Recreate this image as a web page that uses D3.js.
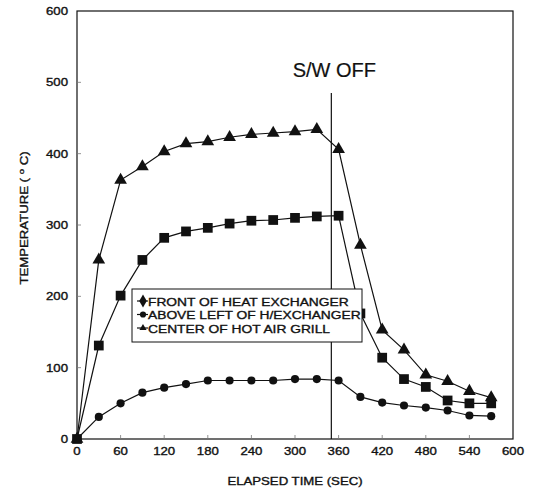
<!DOCTYPE html>
<html>
<head>
<meta charset="utf-8">
<script src="https://cdn.jsdelivr.net/npm/d3@7"></script>
<style>
  body { margin: 0; background: #fff; }
  svg text { font-family: "Liberation Sans", Arial, sans-serif; fill: #111; stroke: #111; stroke-width: 0.35px; }
</style>
</head>
<body>
<svg width="536" height="492"></svg>
<script>
// elapsed time (sec) for every reading
var times = [0, 30, 60, 90, 120, 150, 180, 210, 240, 270, 300, 330, 360, 390, 420, 450, 480, 510, 540, 570];

// temperatures (deg C)
var frontHX  = [0, 31, 50, 65, 72, 77, 82, 82, 82, 82, 84, 84, 82, 59, 51, 47, 44, 40, 33, 32];
var aboveHX  = [0, 131, 201, 251, 282, 291, 296, 302, 306, 307, 310, 312, 313, 176, 114, 84, 73, 54, 50, 50];
var hotGrill = [0, 251, 363, 382, 403, 414, 417, 423, 427, 429, 431, 434, 406, 272, 153, 125, 90, 81, 67, 58];

var seriesNames = ["FRONT OF HEAT EXCHANGER", "ABOVE LEFT OF H/EXCHANGER", "CENTER OF HOT AIR GRILL"];
var xTicks = [0, 60, 120, 180, 240, 300, 360, 420, 480, 540, 600];
var yTicks = [0, 100, 200, 300, 400, 500, 600];
var swOff = 350;

var svg = d3.select("svg"),
    margin = {top: 11, right: 23, bottom: 53, left: 77},
    width = +svg.attr("width") - margin.left - margin.right,
    height = +svg.attr("height") - margin.top - margin.bottom,
    stretch = 1.2; // scanned text is wider than it is tall

var x = d3.scaleLinear().domain([0, 600]).range([margin.left, margin.left + width]);
var y = d3.scaleLinear().domain([0, 600]).range([margin.top + height, margin.top]);

// frame
svg.append("rect")
    .attr("x", x(0)).attr("y", y(600))
    .attr("width", x(600) - x(0)).attr("height", y(0) - y(600))
    .attr("fill", "none").attr("stroke", "#111").attr("stroke-width", 1.2);

// small inward ticks
svg.append("g").selectAll("line").data(xTicks.slice(1, -1)).enter().append("line")
    .attr("x1", function (d) { return x(d); }).attr("x2", function (d) { return x(d); })
    .attr("y1", y(0)).attr("y2", y(0) - 4)
    .attr("stroke", "#777").attr("stroke-width", 0.8);
svg.append("g").selectAll("line").data(yTicks.slice(1, -1)).enter().append("line")
    .attr("x1", x(0)).attr("x2", x(0) + 4)
    .attr("y1", function (d) { return y(d); }).attr("y2", function (d) { return y(d); })
    .attr("stroke", "#777").attr("stroke-width", 0.8);

// tick labels
svg.append("g").selectAll("text").data(xTicks).enter().append("text")
    .attr("transform", function (d) { return "translate(" + x(d) + "," + (y(0) + 16) + ") scale(" + stretch + ",1)"; })
    .attr("text-anchor", "middle")
    .style("font-size", "11px")
    .text(function (d) { return d; });
svg.append("g").selectAll("text").data(yTicks).enter().append("text")
    .attr("transform", function (d) { return "translate(" + (x(0) - 9) + "," + (y(d) + 4) + ") scale(" + stretch + ",1)"; })
    .attr("text-anchor", "end")
    .style("font-size", "11px")
    .text(function (d) { return d; });

// axis titles
svg.append("text")
    .attr("transform", "translate(" + (x(0) + width / 2) + ",485) scale(" + stretch + ",1)")
    .attr("text-anchor", "middle")
    .style("font-size", "11px")
    .text("ELAPSED TIME (SEC)");

var yTitle = svg.append("text")
    .attr("transform", "translate(28,218) rotate(-90) scale(" + stretch + ",1)")
    .attr("text-anchor", "middle")
    .style("font-size", "11px");
yTitle.append("tspan").text("TEMPERATURE ( ");
yTitle.append("tspan").attr("dy", -4).style("font-size", "8px").text("o");
yTitle.append("tspan").attr("dy", 4).text(" C)");

// switch-off marker
svg.append("line")
    .attr("x1", x(swOff)).attr("x2", x(swOff))
    .attr("y1", 93).attr("y2", y(0))
    .attr("stroke", "#111").attr("stroke-width", 1.2);
svg.append("text")
    .attr("x", x(swOff) + 3).attr("y", 77)
    .attr("text-anchor", "middle")
    .style("font-size", "20px")
    .style("stroke-width", "0.2px")
    .text("S/W OFF");

// lines + markers
var series = [frontHX, aboveHX, hotGrill];
var symbols = [d3.symbolCircle, d3.symbolSquare, d3.symbolTriangle];
var sizes = [52, 95, 70];

var line = d3.line()
    .x(function (d, i) { return x(times[i]); })
    .y(function (d) { return y(d); });

series.forEach(function (vals, s) {
    svg.append("path")
        .datum(vals)
        .attr("d", line)
        .attr("fill", "none")
        .attr("stroke", "#111")
        .attr("stroke-width", 1.2);

    svg.append("g").selectAll("path").data(vals).enter().append("path")
        .attr("transform", function (d, i) { return "translate(" + x(times[i]) + "," + y(d) + ")"; })
        .attr("d", d3.symbol().type(symbols[s]).size(sizes[s]))
        .attr("fill", "#111");
});

// legend
var legend = svg.append("g").attr("transform", "translate(132,289)");
legend.append("rect")
    .attr("width", 230).attr("height", 53)
    .attr("fill", "#fff").attr("stroke", "#111").attr("stroke-width", 1);

var legendSymbols = [d3.symbolDiamond, d3.symbolCircle, d3.symbolTriangle];
var legendSizes = [50, 30, 22];

var item = legend.selectAll(".item").data(seriesNames).enter().append("g")
    .attr("class", "item")
    .attr("transform", function (d, i) { return "translate(0," + (12 + i * 13.5) + ")"; });

item.append("line")
    .attr("x1", 5).attr("x2", 16)
    .attr("stroke", "#111").attr("stroke-width", 1.2);
item.append("path")
    .attr("transform", "translate(11,0)")
    .attr("d", function (d, i) { return d3.symbol().type(legendSymbols[i]).size(legendSizes[i])(); })
    .attr("fill", "#111");
item.append("text")
    .attr("transform", "translate(16,4.5) scale(" + stretch + ",1)")
    .style("font-size", "11.5px")
    .text(function (d) { return d; });
</script>
</body>
</html>
